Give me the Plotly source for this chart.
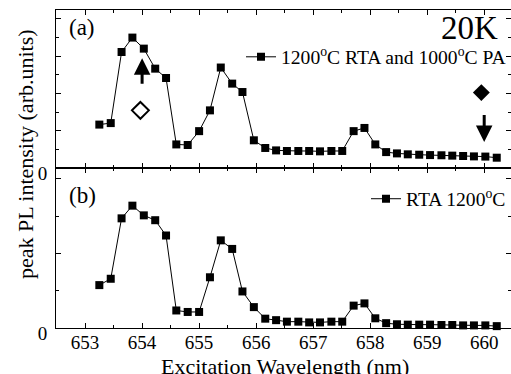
import plotly.graph_objects as go

# ---------------- data ----------------
wavelength = [653.25, 653.45, 653.64, 653.83, 654.03, 654.23, 654.42, 654.60, 654.80, 655.00,
              655.19, 655.38, 655.58, 655.76, 655.96, 656.16, 656.35, 656.54, 656.74, 656.93,
              657.12, 657.32, 657.51, 657.71, 657.90, 658.09, 658.28, 658.47, 658.66, 658.86,
              659.05, 659.25, 659.44, 659.63, 659.82, 660.02, 660.22]

pl_rta_pa = [2.34, 2.42, 6.22, 6.99, 6.40, 5.33, 4.83, 1.28, 1.25, 1.99,
             3.10, 5.39, 4.53, 4.08, 1.50, 1.09, 0.96, 0.93, 0.93, 0.93,
             0.91, 0.93, 0.93, 1.99, 2.16, 1.28, 0.87, 0.80, 0.75, 0.73,
             0.71, 0.70, 0.68, 0.66, 0.64, 0.63, 0.57]

pl_rta = [1.15, 1.32, 2.94, 3.28, 3.02, 2.89, 2.48, 0.47, 0.43, 0.43,
          1.36, 2.35, 2.12, 0.98, 0.56, 0.25, 0.21, 0.17, 0.17, 0.15,
          0.15, 0.17, 0.17, 0.60, 0.66, 0.26, 0.13, 0.10, 0.09, 0.09,
          0.09, 0.08, 0.08, 0.07, 0.07, 0.07, 0.05]

name_a = "1200<sup>o</sup>C RTA and 1000<sup>o</sup>C PA"
name_b = "RTA 1200<sup>o</sup>C"

x_ticks = [653, 654, 655, 656, 657, 658, 659, 660]
x_labels = ["653", "654", "655", "656", "657", "658", "659", "660"]

# excitation markers in panel (a): open diamond + up arrow, filled diamond + down arrow
open_diamond = (653.97, 3.10)
filled_diamond = (659.95, 4.05)
up_arrow = (654.0, 4.44, 5.88)      # x, tail y, head y
down_arrow = (660.0, 2.93, 1.41)    # x, tail y, head y

FONT = "Liberation Serif"
BLACK = "black"

fig = go.Figure()

fig.add_trace(go.Scatter(
    x=wavelength, y=pl_rta_pa, mode="lines+markers", name=name_a,
    line=dict(color=BLACK, width=1),
    marker=dict(symbol="square", size=8, color=BLACK),
    xaxis="x", yaxis="y", legend="legend", cliponaxis=False))

fig.add_trace(go.Scatter(
    x=wavelength, y=pl_rta, mode="lines+markers", name=name_b,
    line=dict(color=BLACK, width=1),
    marker=dict(symbol="square", size=8, color=BLACK),
    xaxis="x2", yaxis="y2", legend="legend2", cliponaxis=False))

fig.add_trace(go.Scatter(
    x=[open_diamond[0]], y=[open_diamond[1]], mode="markers", showlegend=False,
    marker=dict(symbol="diamond-open", size=13, color=BLACK, line=dict(width=2, color=BLACK)),
    xaxis="x", yaxis="y"))

fig.add_trace(go.Scatter(
    x=[filled_diamond[0]], y=[filled_diamond[1]], mode="markers", showlegend=False,
    marker=dict(symbol="diamond", size=13, color=BLACK),
    xaxis="x", yaxis="y"))

x_range = [652.49, 660.47]

common_x = dict(
    range=x_range, showline=True, linecolor=BLACK, linewidth=1, mirror="allticks",
    ticks="inside", ticklen=5, tickcolor=BLACK, tickvals=x_ticks, ticktext=x_labels,
    minor=dict(dtick=0.5, tick0=652.5, ticklen=3, tickcolor=BLACK, ticks="inside"),
    showgrid=False, zeroline=False, ticklabelstandoff=-3,
    tickfont=dict(family=FONT, size=19, color=BLACK),
)

fig.update_layout(
    width=511, height=374,
    margin=dict(l=56, r=0, t=10, b=46),
    paper_bgcolor="white", plot_bgcolor="white",
    font=dict(family=FONT, color=BLACK),
    xaxis=dict(**common_x, anchor="y", showticklabels=False, matches="x2"),
    xaxis2=dict(**common_x, anchor="y2", showticklabels=True),
    yaxis=dict(domain=[0.502, 1], range=[0, 8.465], anchor="x",
               showline=True, linecolor=BLACK, linewidth=1, mirror="allticks",
               ticks="inside", ticklen=5, tickcolor=BLACK,
               tickvals=[0, 2, 4, 6, 8], ticktext=["0", "", "", "", ""],
               minor=dict(tickvals=[1, 3, 5, 7], ticklen=3, tickcolor=BLACK, ticks="inside"),
               showgrid=False, zeroline=False, ticklabelshift=5, ticklabelstandoff=4,
               tickfont=dict(family=FONT, size=19, color=BLACK)),
    yaxis2=dict(domain=[0, 0.502], range=[0, 4.28], anchor="x2",
                showline=True, linecolor=BLACK, linewidth=1, mirror="allticks",
                ticks="inside", ticklen=5, tickcolor=BLACK,
                tickvals=[0, 2, 4], ticktext=["0", "", ""],
                minor=dict(tickvals=[1, 3], ticklen=3, tickcolor=BLACK, ticks="inside"),
                showgrid=False, zeroline=False, ticklabelshift=5, ticklabelstandoff=4,
                tickfont=dict(family=FONT, size=19, color=BLACK)),
    legend=dict(x=1, xanchor="right", y=0.852, yanchor="middle",
                font=dict(family=FONT, size=19.6, color=BLACK),
                bgcolor="rgba(0,0,0,0)", borderwidth=0, itemwidth=30),
    legend2=dict(x=1, xanchor="right", y=0.4057, yanchor="middle",
                 font=dict(family=FONT, size=19.6, color=BLACK),
                 bgcolor="rgba(0,0,0,0)", borderwidth=0, itemwidth=30),
    showlegend=True,
)

annotations = [
    dict(text="(a)", xref="paper", yref="paper", x=0.024, y=0.9465, xanchor="left", yanchor="middle",
         showarrow=False, font=dict(family=FONT, size=23, color=BLACK)),
    dict(text="(b)", xref="paper", yref="paper", x=0.024, y=0.418, xanchor="left", yanchor="middle",
         showarrow=False, font=dict(family=FONT, size=23, color=BLACK)),
    dict(text="20K", xref="paper", yref="paper", x=0.976, y=0.943, xanchor="right", yanchor="middle",
         showarrow=False, font=dict(family=FONT, size=33, color=BLACK)),
    dict(text="Excitation Wavelength (nm)", xref="paper", yref="paper", x=0.5026, y=-0.120,
         xanchor="center", yanchor="middle", showarrow=False,
         font=dict(family=FONT, size=22, color=BLACK)),
    dict(text="peak PL intensity (arb.units)", xref="paper", yref="paper", x=-0.068, y=0.547,
         xanchor="center", yanchor="middle", textangle=-90, showarrow=False,
         font=dict(family=FONT, size=22, color=BLACK)),
    dict(text="", xref="x", yref="y", x=up_arrow[0], y=up_arrow[2],
         axref="x", ayref="y", ax=up_arrow[0], ay=up_arrow[1],
         showarrow=True, arrowhead=2, arrowsize=1.1, arrowwidth=3, arrowcolor=BLACK),
    dict(text="", xref="x", yref="y", x=down_arrow[0], y=down_arrow[2],
         axref="x", ayref="y", ax=down_arrow[0], ay=down_arrow[1],
         showarrow=True, arrowhead=2, arrowsize=1.1, arrowwidth=3, arrowcolor=BLACK),
]
fig.update_layout(annotations=annotations)

fig.write_html("out.html",
               config={"displayModeBar": False},
               post_script="document.body.style.margin='0';document.body.style.overflow='hidden';")
